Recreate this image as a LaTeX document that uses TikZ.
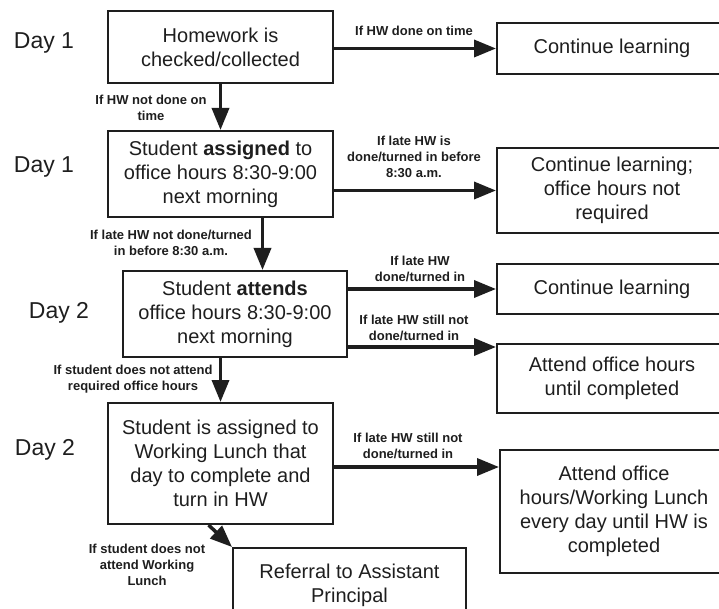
\documentclass[tikz,border=0pt]{standalone}
\usepackage{fontspec}
\setmainfont{Liberation Sans}
\usetikzlibrary{arrows.meta,positioning,calc}
\definecolor{ink}{HTML}{1E1E1E}
\tikzset{
  box/.style={draw=ink, line width=2pt, align=center, inner sep=0pt,
              text=ink, font=\fontsize{20}{24}\selectfont},
  arrow/.style={-{Triangle[length=22pt,width=17pt]}, line width=3.5pt, draw=ink},
  cond/.style={align=center, inner sep=0pt, text=ink,
               font=\bfseries\fontsize{13}{16}\selectfont},
  daylabel/.style={inner sep=0pt, text=ink, font=\fontsize{23}{26}\selectfont}
}

\begin{document}
\begin{tikzpicture}[x=1pt,y=-1pt]
  \useasboundingbox (0,0) rectangle (719,609);
  \clip (0,0) rectangle (719,609);
  % steps on the left
  \node[box,minimum width=225pt,minimum height=72pt] (check) at (220.5,47) {Homework is\\checked/collected};
  \node[box,minimum width=225pt,minimum height=86pt] (assign) at (220.5,174) {Student \textbf{assigned} to\\office hours 8:30-9:00\\next morning};
  \node[box,minimum width=224pt,minimum height=86pt] (attend) at (235,314) {Student \textbf{attends}\\office hours 8:30-9:00\\next morning};
  \node[box,minimum width=225pt,minimum height=121pt] (lunch) at (220.5,463.5) {Student is assigned to\\Working Lunch that\\day to complete and\\turn in HW};
  \node[box,minimum width=233pt,minimum height=74pt] (referral) at (349.5,585) {Referral to Assistant\\Principal};
  % outcomes on the right
  \node[box,minimum width=230pt,minimum height=51pt] (cont1) at (612,48.5) {Continue learning};
  \node[box,minimum width=230pt,minimum height=85pt] (cont2) at (612,190.5) {Continue learning;\\office hours not\\required};
  \node[box,minimum width=230pt,minimum height=50pt] (cont3) at (612,289) {Continue learning};
  \node[box,minimum width=230pt,minimum height=69pt] (office) at (612,378.5) {Attend office hours\\until completed};
  \node[box,minimum width=228pt,minimum height=123pt] (daily) at (614,511.5) {Attend office\\hours/Working Lunch\\every day until HW is\\completed};
  % day labels
  \node[daylabel] (day1a) at (44,43) {Day 1};
  \node[daylabel] (day1b) at (44,167) {Day 1};
  \node[daylabel] (day2a) at (59,313) {Day 2};
  \node[daylabel] (day2b) at (45,450) {Day 2};
  % connectors
  \coordinate (down2) at ([xshift=42pt]assign.south);
  \coordinate (officein) at ([yshift=-4pt]office.north west);
  \coordinate (dailyin) at ([yshift=-18pt]daily.north west);
  \draw[arrow] (check.east |- cont1.west) -- (cont1.west);
  \draw[arrow] (check.south) -- (assign.north);
  \draw[arrow] (assign.east |- cont2.west) -- (cont2.west);
  \draw[arrow] (down2) -- (down2 |- attend.north);
  \draw[arrow] (attend.east |- cont3.west) -- (cont3.west);
  \draw[arrow] (attend.east |- officein) -- (officein);
  \draw[arrow] (lunch.north |- attend.south) -- (lunch.north);
  \draw[arrow] (lunch.east |- dailyin) -- (dailyin);
  \draw[arrow] ([xshift=-12pt]lunch.south) -- (referral.north west);
  % conditions
  \node[cond] (c1) at (414,31) {If HW done on time};
  \node[cond] (c2) at (151,108) {If HW not done on\\time};
  \node[cond] (c3) at (414,157) {If late HW is\\done/turned in before\\8:30 a.m.};
  \node[cond] (c4) at (171,243) {If late HW not done/turned\\in before 8:30 a.m.};
  \node[cond] (c5) at (420,269) {If late HW\\done/turned in};
  \node[cond] (c6) at (414,328) {If late HW still not\\done/turned in};
  \node[cond] (c7) at (133,379) {If student does not attend\\required office hours};
  \node[cond] (c8) at (408,446) {If late HW still not\\done/turned in};
  \node[cond] (c9) at (147,565) {If student does not\\attend Working\\Lunch};
\end{tikzpicture}
\end{document}
